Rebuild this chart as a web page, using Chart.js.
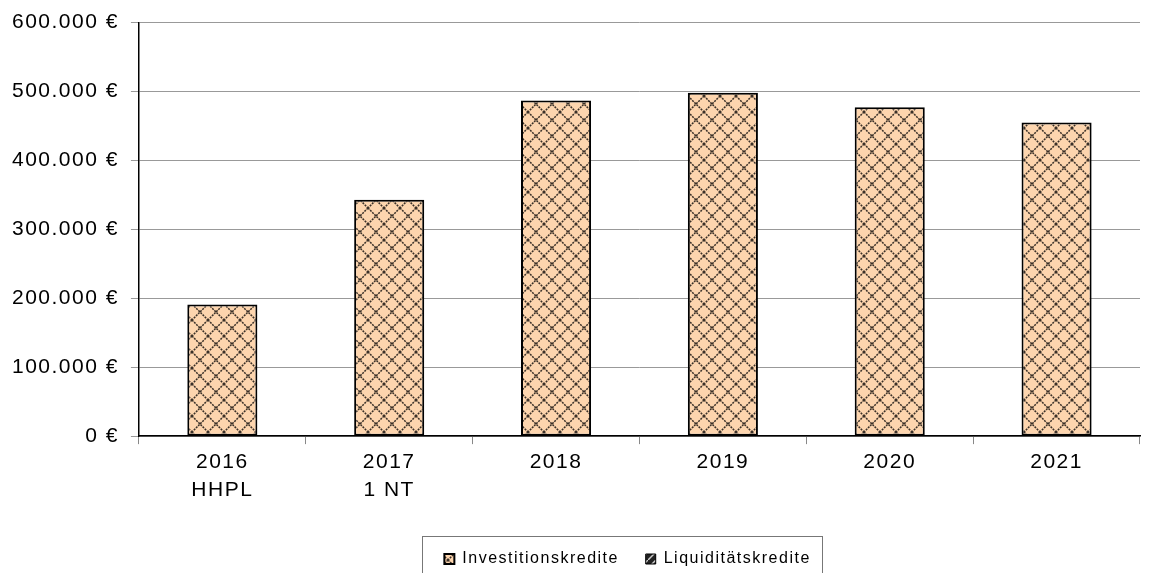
<!DOCTYPE html>
<html>
<head>
<meta charset="utf-8">
<script src="https://cdn.jsdelivr.net/npm/chart.js@4"></script>
<style>
  html, body { margin: 0; padding: 0; background: #fff; }
  #wrap { width: 1153px; height: 573px; }
</style>
</head>
<body>
<div id="wrap"><canvas id="kreditChart"></canvas></div>
<script>
const jahre = [["2016", "HHPL"], ["2017", "1 NT"], "2018", "2019", "2020", "2021"];
const investitionskredite = [191000, 343000, 487000, 498000, 477000, 455000];
const liquiditaetskredite = [null, null, null, null, null, null];
const yTicks = [0, 100000, 200000, 300000, 400000, 500000, 600000];

function euro(v) {
    return String(v).replace(/\B(?=(\d{3})+(?!\d))/g, ".") + " €";
}

// kreuzschraffur wie im original
function kreuzMuster(bg, fg) {
    const c = document.createElement("canvas");
    c.width = 16; c.height = 16;
    const g = c.getContext("2d");
    g.fillStyle = bg;
    g.fillRect(0, 0, 16, 16);
    g.strokeStyle = fg;
    g.lineWidth = 1.5;
    g.setLineDash([2, 1]);
    g.beginPath();
    g.moveTo(0, 0); g.lineTo(16, 16);
    g.moveTo(16, 0); g.lineTo(0, 16);
    g.stroke();
    return g.createPattern(c, "repeat");
}

function liquiMuster() {
    const c = document.createElement("canvas");
    c.width = 8; c.height = 8;
    const g = c.getContext("2d");
    g.fillStyle = "#222";
    g.fillRect(0, 0, 8, 8);
    g.strokeStyle = "#ccc";
    g.lineWidth = 1.5;
    g.beginPath();
    g.moveTo(0, 8); g.lineTo(8, 0);
    g.stroke();
    return g.createPattern(c, "repeat");
}

// schrift im original wirkt breiter -> etwas sperren
const sperren = {
    id: "sperren",
    beforeLayout(chart) { chart.ctx.letterSpacing = "1.5px"; },
    beforeDraw(chart) { chart.ctx.letterSpacing = "1.5px"; }
};

const legendRahmen = {
    id: "legendRahmen",
    afterDraw(chart) {
        const l = chart.legend;
        const ctx = chart.ctx;
        const mitte = l.top + l.height / 2;
        ctx.save();
        ctx.strokeStyle = "#777";
        ctx.lineWidth = 1;
        ctx.strokeRect(422.5, Math.round(mitte - 27) + 0.5, 400, 60);
        ctx.restore();
    }
};

new Chart(document.getElementById("kreditChart"), {
    type: "bar",
    data: {
        labels: jahre,
        datasets: [{
            label: "Investitionskredite",
            data: investitionskredite,
            backgroundColor: kreuzMuster("#fdd5ae", "#3a3028"),
            borderColor: "#000",
            borderWidth: 2,
            borderSkipped: false
        }, {
            label: "Liquiditätskredite",
            data: liquiditaetskredite,
            backgroundColor: liquiMuster(),
            borderColor: "#000",
            borderWidth: 1
        }]
    },
    options: {
        responsive: true,
        maintainAspectRatio: false,
        animation: false,
        layout: { padding: { top: 10, right: 13, left: 0, bottom: -4 } },
        datasets: { bar: { categoryPercentage: 1, barPercentage: 0.42 } },
        plugins: {
            tooltip: { enabled: false },
            legend: {
                position: "bottom",
                fullSize: false,
                labels: {
                    font: { family: "Liberation Sans", size: 16 },
                    color: "#000",
                    boxWidth: 10,
                    boxHeight: 10,
                    padding: 3,
                    generateLabels(chart) {
                        const items = Chart.defaults.plugins.legend.labels.generateLabels(chart);
                        items[0].text = items[0].text + "    ";
                        items[1].text = items[1].text + "    ";
                        return items;
                    }
                }
            }
        },
        scales: {
            x: {
                stacked: true,
                grid: { offset: true, drawOnChartArea: false, color: "#888", tickLength: 8 },
                border: { color: "#000", width: 1.5 },
                ticks: { font: { family: "Liberation Sans", size: 21, lineHeight: 1.33 }, color: "#000", padding: 4, maxRotation: 0 },
                afterFit(scale) { scale.height += 40; }
            },
            y: {
                stacked: true,
                min: 0,
                max: 600000,
                afterBuildTicks(scale) { scale.ticks = yTicks.map(v => ({ value: v })); },
                grid: { color: "#999", lineWidth: 1, tickLength: 8 },
                border: { color: "#000", width: 1.5 },
                ticks: {
                    font: { family: "Liberation Sans", size: 21, lineHeight: 1 },
                    color: "#000",
                    padding: 12,
                    callback: v => euro(v)
                }
            }
        }
    },
    plugins: [sperren, legendRahmen]
});
</script>
</body>
</html>
